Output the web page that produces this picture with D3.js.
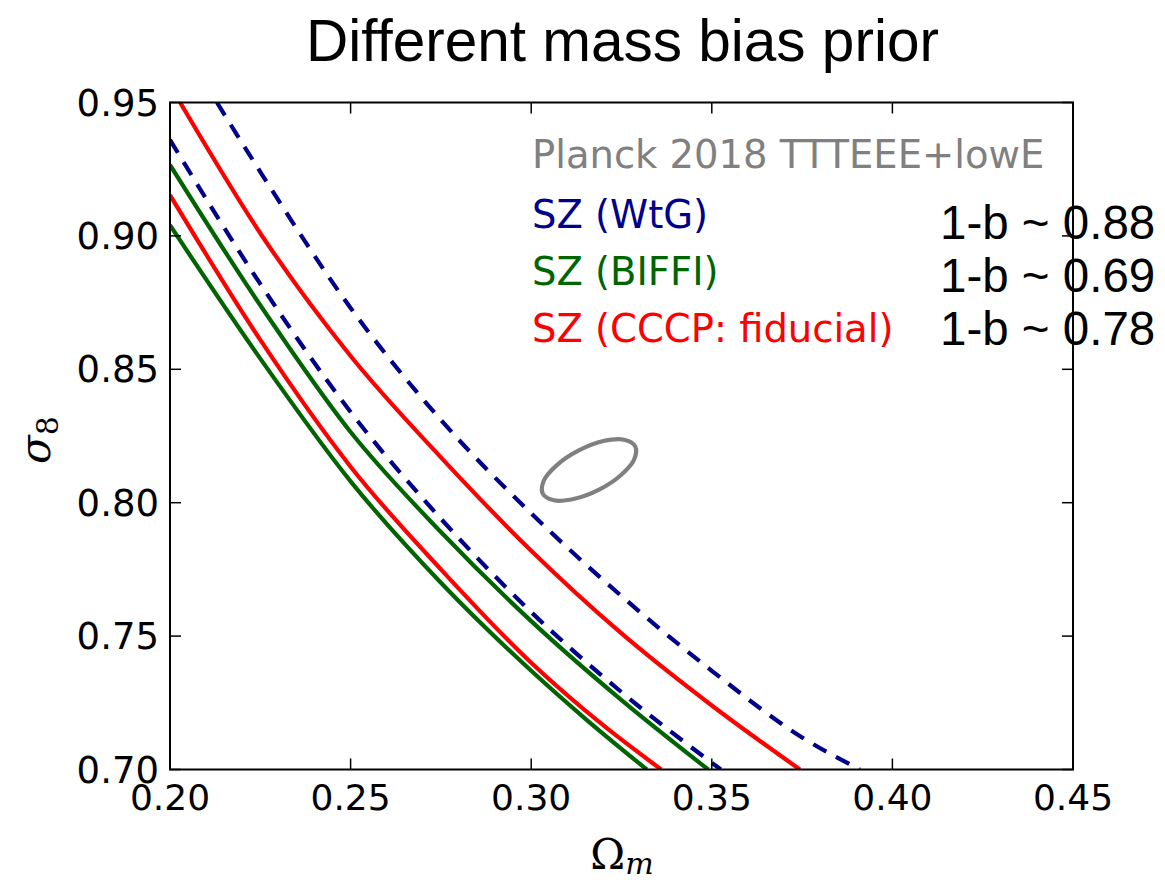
<!DOCTYPE html>
<html>
<head>
<meta charset="utf-8">
<script src="https://cdn.jsdelivr.net/npm/d3@7"></script>
<style>
  html, body { margin: 0; padding: 0; background: #ffffff; }
  svg { display: block; }
</style>
</head>
<body>
<svg id="chart" width="1165" height="885"></svg>
<script>
// ---- data ----
const xTicks = [0.20, 0.25, 0.30, 0.35, 0.40, 0.45];
const yTicks = [0.70, 0.75, 0.80, 0.85, 0.90, 0.95];

// SZ (WtG) – dashed blue, two contour edges
const wtgInnerOm = [0.200, 0.225, 0.250, 0.275, 0.300, 0.325, 0.3525];
const wtgInnerS8 = [0.936, 0.882, 0.834, 0.794, 0.759, 0.729, 0.700];
const wtgOuterOm = [0.213, 0.225, 0.250, 0.275, 0.300, 0.325, 0.350, 0.375, 0.391];
const wtgOuterS8 = [0.950, 0.924, 0.873, 0.831, 0.796, 0.765, 0.737, 0.712, 0.700];

// SZ (BIFFI) – green
const biffiInnerOm = [0.200, 0.225, 0.250, 0.275, 0.300, 0.315, 0.332];
const biffiInnerS8 = [0.904, 0.854, 0.808, 0.770, 0.737, 0.719, 0.700];
const biffiOuterOm = [0.200, 0.225, 0.250, 0.275, 0.300, 0.325, 0.349];
const biffiOuterS8 = [0.9266, 0.874, 0.8265, 0.789, 0.7556, 0.726, 0.700];

// SZ (CCCP: fiducial) – red
const cccpInnerOm = [0.200, 0.225, 0.250, 0.275, 0.300, 0.320, 0.336];
const cccpInnerS8 = [0.9153, 0.861, 0.8135, 0.775, 0.740, 0.7165, 0.700];
const cccpOuterOm = [0.2028, 0.225, 0.250, 0.275, 0.300, 0.325, 0.350, 0.3744];
const cccpOuterS8 = [0.950, 0.901, 0.855, 0.817, 0.782, 0.751, 0.724, 0.700];

// Planck 2018 TTTEEE+lowE contour
const planckOm = [0.3288, 0.3285, 0.3248, 0.3188, 0.3120, 0.3063, 0.3032, 0.3035, 0.3072, 0.3132, 0.3200, 0.3257];
const planckS8 = [0.8211, 0.8162, 0.8103, 0.8049, 0.8015, 0.8009, 0.8034, 0.8083, 0.8142, 0.8196, 0.8231, 0.8236];

const legendLabels = ["Planck 2018 TTTEEE+lowE", "SZ (WtG)", "SZ (BIFFI)", "SZ (CCCP: fiducial)"];
const biasLabels = ["1-b ~ 0.88", "1-b ~ 0.69", "1-b ~ 0.78"];
const titleText = "Different mass bias prior";

// ---- layout ----
const plotL = 170, plotR = 1073, plotT = 102.5, plotB = 769.5;
const svg = d3.select("#chart");

const xScale = d3.scaleLinear().domain([0.20, 0.45]).range([plotL, plotR]);
const yScale = d3.scaleLinear().domain([0.70, 0.95]).range([plotB, plotT]);

const colBlue = "#00008b", colGreen = "#006400", colRed = "#ff0000", colGray = "#808080";

svg.append("defs").append("clipPath").attr("id", "clip")
  .append("rect").attr("x", plotL).attr("y", plotT)
  .attr("width", plotR - plotL).attr("height", plotB - plotT);

const plot = svg.append("g").attr("clip-path", "url(#clip)");

const lineGen = d3.line().x(d => xScale(d[0])).y(d => yScale(d[1])).curve(d3.curveMonotoneX);
const zip = (a, b) => a.map((v, i) => [v, b[i]]);

const curves = [
  { om: biffiInnerOm, s8: biffiInnerS8, color: colGreen, dash: null },
  { om: cccpInnerOm, s8: cccpInnerS8, color: colRed, dash: null },
  { om: biffiOuterOm, s8: biffiOuterS8, color: colGreen, dash: null },
  { om: cccpOuterOm, s8: cccpOuterS8, color: colRed, dash: null },
  { om: wtgInnerOm, s8: wtgInnerS8, color: colBlue, dash: "15,11" },
  { om: wtgOuterOm, s8: wtgOuterS8, color: colBlue, dash: "15,11" }
];

curves.forEach(c => {
  plot.append("path")
    .attr("d", lineGen(zip(c.om, c.s8)))
    .attr("fill", "none")
    .attr("stroke", c.color)
    .attr("stroke-width", 4.2)
    .attr("stroke-dasharray", c.dash);
});

// Planck ellipse contour
const closedGen = d3.line().x(d => xScale(d[0])).y(d => yScale(d[1])).curve(d3.curveCatmullRomClosed);
plot.append("path")
  .attr("d", closedGen(zip(planckOm, planckS8)))
  .attr("fill", "none")
  .attr("stroke", colGray)
  .attr("stroke-width", 4.2);

// ---- axes (ticks inward on all four sides) ----
const tickLen = 11;
const axisG = svg.append("g");
xTicks.forEach(t => {
  axisG.append("line").attr("x1", xScale(t)).attr("x2", xScale(t))
    .attr("y1", plotB).attr("y2", plotB - tickLen).attr("stroke", "#000").attr("stroke-width", 1.5);
  axisG.append("line").attr("x1", xScale(t)).attr("x2", xScale(t))
    .attr("y1", plotT).attr("y2", plotT + tickLen).attr("stroke", "#000").attr("stroke-width", 1.5);
});
yTicks.forEach(t => {
  axisG.append("line").attr("x1", plotL).attr("x2", plotL + tickLen)
    .attr("y1", yScale(t)).attr("y2", yScale(t)).attr("stroke", "#000").attr("stroke-width", 1.5);
  axisG.append("line").attr("x1", plotR).attr("x2", plotR - tickLen)
    .attr("y1", yScale(t)).attr("y2", yScale(t)).attr("stroke", "#000").attr("stroke-width", 1.5);
});

axisG.append("rect").attr("x", plotL).attr("y", plotT)
  .attr("width", plotR - plotL).attr("height", plotB - plotT)
  .attr("fill", "none").attr("stroke", "#000").attr("stroke-width", 2);

const tickFont = "'DejaVu Sans', sans-serif";
svg.append("g").selectAll("text").data(xTicks).join("text")
  .attr("x", d => xScale(d)).attr("y", 810)
  .attr("text-anchor", "middle")
  .attr("font-family", tickFont).attr("font-size", 36)
  .text(d => d3.format(".2f")(d));

svg.append("g").selectAll("text").data(yTicks).join("text")
  .attr("x", 159).attr("y", d => yScale(d) + 13)
  .attr("text-anchor", "end")
  .attr("font-family", tickFont).attr("font-size", 37)
  .text(d => d3.format(".2f")(d));

// axis labels
const xl = svg.append("text")
  .attr("x", 622).attr("y", 869)
  .attr("text-anchor", "middle")
  .attr("font-family", "'DejaVu Serif', 'Liberation Serif', serif")
  .attr("font-size", 42);
xl.append("tspan").text("Ω");
xl.append("tspan").attr("font-style", "italic").attr("font-size", 30).attr("dy", 5).text("m");

const yl = svg.append("text")
  .attr("transform", "translate(50,440) rotate(-90)")
  .attr("text-anchor", "middle")
  .attr("font-family", "'DejaVu Serif', 'Liberation Serif', serif")
  .attr("font-size", 42);
yl.append("tspan").attr("font-style", "italic").text("σ");
yl.append("tspan").attr("font-size", 30).attr("dy", 8).text("8");

// legend
const legendColors = [colGray, colBlue, colGreen, colRed];
const legendY = [168, 228, 285, 342];
svg.append("g").selectAll("text").data(legendLabels).join("text")
  .attr("x", 532).attr("y", (d, i) => legendY[i])
  .attr("font-family", tickFont).attr("font-size", 38.5)
  .attr("fill", (d, i) => legendColors[i])
  .text(d => d);

// title
svg.append("text")
  .attr("x", 306).attr("y", 61)
  .attr("font-family", "'Liberation Sans', Arial, sans-serif")
  .attr("font-size", 58.5)
  .text(titleText);

// mass-bias annotations
const biasY = [239, 292, 345];
svg.append("g").selectAll("text").data(biasLabels).join("text")
  .attr("x", 940).attr("y", (d, i) => biasY[i])
  .attr("font-family", "'Liberation Sans', Arial, sans-serif")
  .attr("font-size", 47.5)
  .text(d => d);
</script>
</body>
</html>
